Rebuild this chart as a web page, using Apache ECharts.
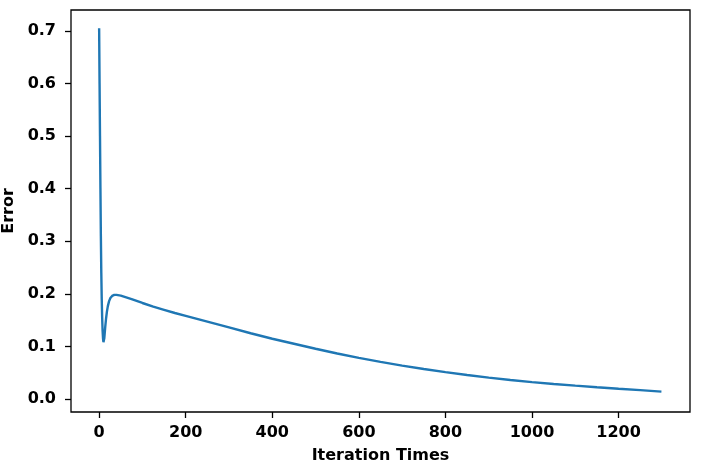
<!DOCTYPE html>
<html>
<head>
<meta charset="utf-8">
<script src="https://cdn.jsdelivr.net/npm/echarts@6/dist/echarts.min.js"></script>
<style>
html,body{margin:0;padding:0;background:#fff;}
#chart{width:705px;height:474px;}
</style>
</head>
<body>
<div id="chart"></div>
<script>
// Iteration index values
var iterations = [0, 1, 2, 3, 4, 5, 6, 7, 8, 9, 10, 11, 12, 14, 16, 18, 20, 23, 26, 30, 35, 40, 50, 75, 100, 125, 150, 175, 200, 250, 300, 350, 400, 450, 500, 550, 600, 650, 700, 750, 800, 850, 900, 950, 1000, 1050, 1100, 1150, 1200, 1250, 1299];
// Error values
var errors = [0.705, 0.60, 0.50, 0.40, 0.31, 0.24, 0.19, 0.155, 0.13, 0.115, 0.108, 0.109, 0.116, 0.136, 0.153, 0.166, 0.176, 0.186, 0.192, 0.196, 0.198, 0.198, 0.1965, 0.190, 0.1825, 0.1755, 0.1695, 0.1635, 0.158, 0.147, 0.136, 0.125, 0.1145, 0.105, 0.0955, 0.0865, 0.078, 0.0705, 0.0635, 0.057, 0.051, 0.0455, 0.0405, 0.036, 0.032, 0.0285, 0.0254, 0.0224, 0.0195, 0.0168, 0.014];
// Tick labels
var xTicks = [0, 200, 400, 600, 800, 1000, 1200];
var yTicks = [0.0, 0.1, 0.2, 0.3, 0.4, 0.5, 0.6, 0.7];

var seriesData = iterations.map(function (x, i) { return [x, errors[i]]; });

var font = 'DejaVu Sans';
var chart = echarts.init(document.getElementById('chart'), null, {renderer: 'canvas'});
chart.setOption({
  animation: false,
  backgroundColor: '#fff',
  grid: {left: 71, right: 15, top: 10, bottom: 62, show: true, borderColor: '#000', borderWidth: 1.3,
    backgroundColor: 'transparent', containLabel: false, outerBoundsMode: 'none'},
  xAxis: {
    type: 'value', min: -65, max: 1365,
    name: 'Iteration Times', nameLocation: 'middle', nameGap: 36,
    nameTextStyle: {fontFamily: font, fontSize: 16, fontWeight: 'bold', color: '#000'},
    axisLine: {show: false, onZero: false},
    splitLine: {show: false},
    axisTick: {show: true, length: 6, customValues: xTicks, lineStyle: {color: '#000', width: 1.3}},
    axisLabel: {customValues: xTicks, margin: 13, fontFamily: font, fontSize: 16, fontWeight: 'bold', color: '#000',
      formatter: function (v) { return String(v); }}
  },
  yAxis: {
    type: 'value', min: -0.0248, max: 0.7397,
    name: 'Error', nameLocation: 'middle', nameGap: 50,
    nameTextStyle: {fontFamily: font, fontSize: 16, fontWeight: 'bold', color: '#000'},
    axisLine: {show: false, onZero: false},
    splitLine: {show: false},
    axisTick: {show: true, length: 6, customValues: yTicks, lineStyle: {color: '#000', width: 1.3}},
    axisLabel: {customValues: yTicks, margin: 15, fontFamily: font, fontSize: 16, fontWeight: 'bold', color: '#000',
      formatter: function (v) { return v.toFixed(1); }}
  },
  series: [{
    type: 'line', data: seriesData, showSymbol: false, smooth: false,
    lineStyle: {color: '#1f77b4', width: 2.4},
    itemStyle: {color: '#1f77b4'}
  }]
});
</script>
</body>
</html>
